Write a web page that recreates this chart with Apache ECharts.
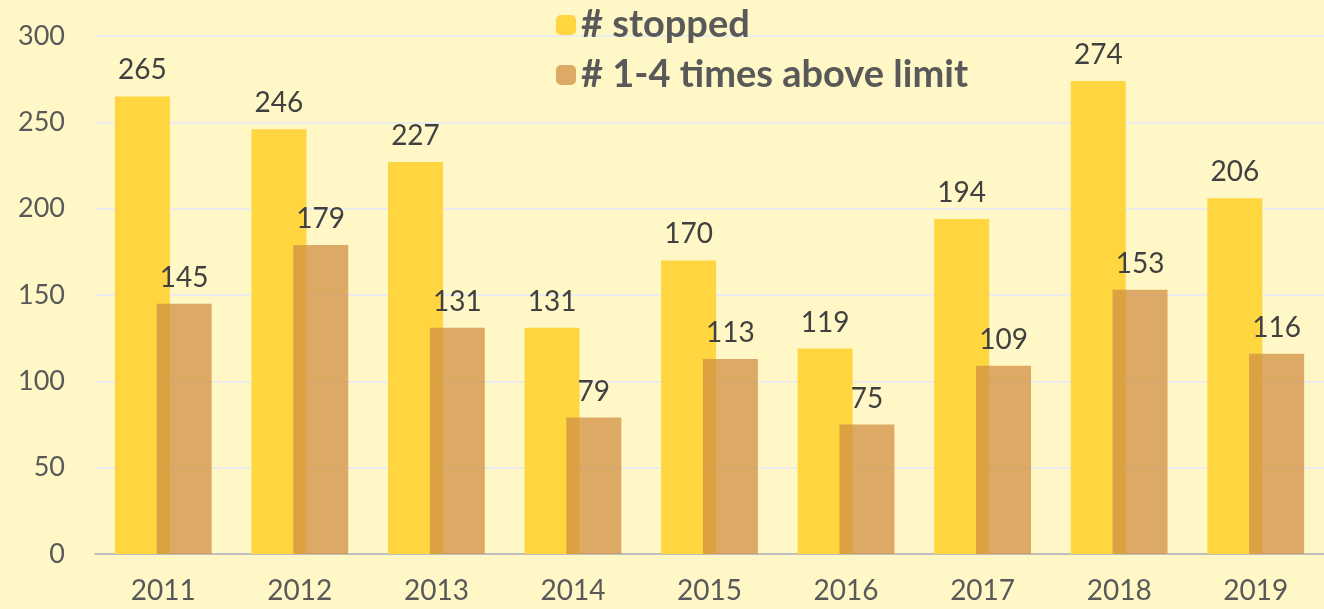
<!DOCTYPE html>
<html>
<head>
<meta charset="utf-8">
<script src="https://cdn.jsdelivr.net/npm/echarts@6/dist/echarts.min.js"></script>
<style>
  html, body { margin: 0; padding: 0; background: #fff7c6; }
  #main { width: 1324px; height: 609px; }
</style>
</head>
<body>
<div id="main"></div>
<script>
// 数据
var years = ['2011', '2012', '2013', '2014', '2015', '2016', '2017', '2018', '2019'];
var stopped = [265, 246, 227, 131, 170, 119, 194, 274, 206];
var aboveLimit = [145, 179, 131, 79, 113, 75, 109, 153, 116];
var nameList = ['# stopped', '# 1-4 times above limit'];

var labelStyle = {
    show: true,
    position: 'top',
    distance: 12,
    color: '#404040',
    fontSize: 28,
    fontFamily: 'Lato'
};

var option = {
    backgroundColor: '#fff7c6',
    animation: false,
    legend: {
        orient: 'vertical',
        left: 551,
        top: -2,
        itemWidth: 20,
        itemHeight: 20,
        itemGap: 6,
        textStyle: {
            color: '#595959',
            fontSize: 38,
            fontWeight: 'bold',
            fontFamily: 'Lato',
            lineHeight: 44
        },
        data: nameList
    },
    grid: {
        left: 95,
        right: 0,
        top: 36,
        bottom: 55
    },
    xAxis: {
        type: 'category',
        data: years,
        axisTick: { show: false },
        axisLine: { lineStyle: { color: '#bfbfbf', width: 2 } },
        axisLabel: {
            color: '#595959',
            fontSize: 28,
            fontFamily: 'Lato',
            margin: 23
        }
    },
    yAxis: {
        type: 'value',
        min: 0,
        max: 300,
        interval: 50,
        axisLine: { show: false },
        axisTick: { show: false },
        axisLabel: {
            color: '#595959',
            fontSize: 27,
            fontFamily: 'Lato',
            margin: 30
        },
        splitLine: { lineStyle: { color: '#ececec', width: 2 } }
    },
    series: [
        {
            name: nameList[0],
            type: 'bar',
            barWidth: 55,
            barGap: '-24%',
            itemStyle: { color: '#ffd640' },
            label: labelStyle,
            data: stopped
        },
        {
            name: nameList[1],
            type: 'bar',
            barWidth: 55,
            itemStyle: { color: 'rgba(208,144,67,0.75)' },
            label: labelStyle,
            data: aboveLimit
        }
    ]
};

var chart = echarts.init(document.getElementById('main'));
chart.setOption(option);
</script>
</body>
</html>
